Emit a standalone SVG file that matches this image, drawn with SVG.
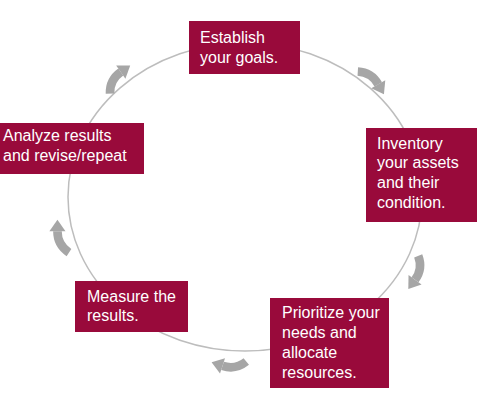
<svg xmlns="http://www.w3.org/2000/svg" xmlns:xlink="http://www.w3.org/1999/xlink" width="495" height="400" viewBox="0 0 495 400">
<style>
.box{fill:#990a3b}
.lbl{font-family:"Liberation Sans",Arial,sans-serif;font-size:16px;fill:#ffffff}
.ring{fill:none;stroke:#bdbdbd;stroke-width:1.5}
.arr{fill:#a6a6a6}
.arrb{fill:none;stroke:#a6a6a6;stroke-width:7.5}
</style>
<defs>
<g id="carrow">
<path class="arrb" d="M -15.56 6.44 A 22 22 0 0 1 4.57 0.48"/>
<polygon class="arr" points="6.03,-6.37 14.35,2.56 3.11,7.33"/>
</g>
</defs>
<rect width="495" height="400" fill="#ffffff"/>
<g id="connectors">
<ellipse class="ring" cx="245" cy="197" rx="177" ry="154"/>
<use xlink:href="#carrow" transform="translate(116.8,75.5) rotate(-47) scale(1.15)"/>
<use xlink:href="#carrow" transform="translate(375.2,80) rotate(48.5) scale(1.15)"/>
<use xlink:href="#carrow" transform="translate(417.7,275.2) rotate(114) scale(1.15)"/>
<use xlink:href="#carrow" transform="translate(227.7,367) rotate(186) scale(1.15)"/>
<use xlink:href="#carrow" transform="translate(58,236.6) rotate(-102) scale(1.15)"/>
</g>
<g id="n1">
<rect class="box" x="189" y="21" width="111" height="53"/>
<text class="lbl" x="200" y="43">Establish</text>
<text class="lbl" x="200" y="63">your goals.</text>
</g>
<g id="n2">
<rect class="box" x="366" y="128" width="111" height="94"/>
<text class="lbl" x="377" y="149">Inventory</text>
<text class="lbl" x="377" y="168">your assets</text>
<text class="lbl" x="377" y="188">and their</text>
<text class="lbl" x="377" y="208">condition.</text>
</g>
<g id="n3">
<rect class="box" x="270" y="298" width="119" height="90"/>
<text class="lbl" x="282" y="318">Prioritize your</text>
<text class="lbl" x="282" y="338">needs and</text>
<text class="lbl" x="282" y="358">allocate</text>
<text class="lbl" x="282" y="378">resources.</text>
</g>
<g id="n4">
<rect class="box" x="75" y="281" width="113" height="51"/>
<text class="lbl" x="87" y="302">Measure the</text>
<text class="lbl" x="87" y="321">results.</text>
</g>
<g id="n5">
<rect class="box" x="0" y="123" width="144" height="51"/>
<text class="lbl" x="3" y="141">Analyze results</text>
<text class="lbl" x="3" y="161">and revise/repeat</text>
</g>
</svg>
